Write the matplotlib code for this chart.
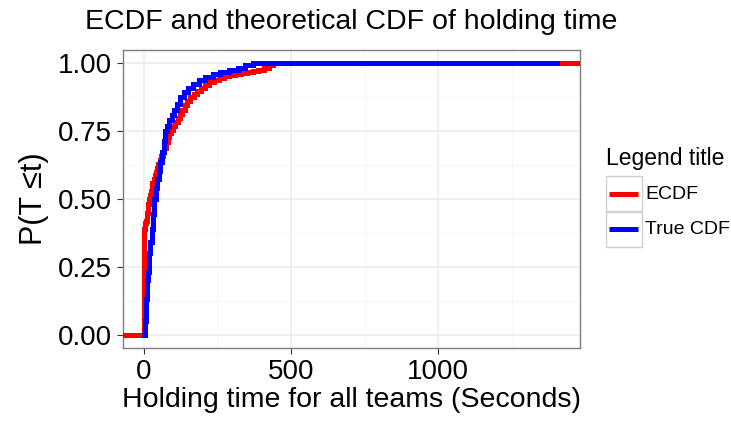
import matplotlib.pyplot as plt
from matplotlib.lines import Line2D
from matplotlib.patches import Rectangle
from matplotlib.ticker import MultipleLocator
import numpy as np

plt.rcParams['font.family'] = ['Liberation Sans', 'DejaVu Sans']

# empirical CDF knots (holding time in seconds, cumulative share)
ecdf_t = [0, 2, 4, 6, 8, 10, 12, 14, 16, 18, 21, 24, 27, 30, 34, 38, 42, 46, 50,
          55, 60, 65, 70, 76, 82, 88, 94, 101, 108, 116, 124, 132, 140, 149,
          159, 170, 182, 195, 208, 222, 238, 255, 272, 290, 310, 330, 350, 370,
          390, 410, 425, 440, 1410]
ecdf_p = [0.38, 0.39, 0.40, 0.41, 0.42, 0.435, 0.45, 0.465, 0.48, 0.50, 0.515,
          0.53, 0.545, 0.56, 0.575, 0.59, 0.60, 0.615, 0.63, 0.645, 0.66, 0.675,
          0.69, 0.71, 0.73, 0.745, 0.755, 0.77, 0.785, 0.80, 0.815, 0.83, 0.845,
          0.86, 0.875, 0.888, 0.90, 0.91, 0.92, 0.93, 0.94, 0.946, 0.952, 0.957,
          0.962, 0.966, 0.97, 0.973, 0.977, 0.985, 0.993, 1.0, 1.0]

# fitted exponential CDF evaluated at the observed times
cdf_t = [3, 5, 7, 9, 11, 13, 15, 17, 20, 23, 27, 32, 37, 42, 47, 52, 57, 62, 68,
         74, 80, 87, 95, 103, 112, 125, 138, 152, 168, 187, 210, 235, 260, 290,
         320, 345, 370, 1405]
cdf_p = [0.0, 0.05, 0.09, 0.13, 0.17, 0.20, 0.23, 0.26, 0.30, 0.34, 0.39, 0.445,
         0.50, 0.54, 0.575, 0.605, 0.635, 0.675, 0.715, 0.75, 0.77, 0.79, 0.81,
         0.83, 0.85, 0.875, 0.893, 0.91, 0.925, 0.938, 0.95, 0.96, 0.968, 0.975,
         0.985, 0.993, 1.0, 1.0]

fig = plt.figure(figsize=(7.31, 4.23), dpi=100)
ax = fig.add_axes([0.168, 0.177, 0.625, 0.705])

# ECDF padded out to the panel edges
x_ecdf = np.concatenate([[-1e4], ecdf_t, [1e5]])
y_ecdf = np.concatenate([[0.0], ecdf_p, [1.0]])
ax.plot(x_ecdf, y_ecdf, drawstyle='steps-post', color='#ff0000', lw=3.6,
        solid_joinstyle='miter', zorder=3)
ax.plot(cdf_t, cdf_p, drawstyle='steps-post', color='#0000ff', lw=3.6,
        solid_joinstyle='miter', zorder=4)

xmin, xmax = 0, 1410
pad = 0.05 * (xmax - xmin)
ax.set_xlim(xmin - pad, xmax + pad)
ax.set_ylim(-0.05, 1.05)

ax.xaxis.set_minor_locator(MultipleLocator(250))
ax.yaxis.set_minor_locator(MultipleLocator(0.125))
ax.set_yticks([0, 0.25, 0.5, 0.75, 1.0])
ax.set_yticklabels(['0.00', '0.25', '0.50', '0.75', '1.00'])
ax.set_xticks([0, 500, 1000])
ax.set_xticklabels(['0', '500', '1000'])

ax.grid(which='major', color='#ebebeb', lw=1.1, zorder=0)
ax.grid(which='minor', color='#f5f5f5', lw=0.6, zorder=0)
ax.set_axisbelow(True)
for s in ax.spines.values():
    s.set_color('#7f7f7f')
    s.set_linewidth(1.0)
ax.tick_params(which='major', length=4, width=0.8, color='#333333',
               labelsize=20, labelcolor='black', pad=4)
ax.tick_params(which='minor', length=0)

ax.set_xlabel('Holding time for all teams (Seconds)', fontsize=20.5, labelpad=1)
ax.set_ylabel('P(T \u2264t)', fontsize=22, labelpad=6)
ax.set_title('ECDF and theoretical CDF of holding time', fontsize=20.5, pad=15)

# legend drawn in figure coordinates
W, H = 731, 423
fig.text(606 / W, 1 - 158 / H, 'Legend title', fontsize=16.5, va='center', ha='left')
entries = [('ECDF', '#ff0000', 194), ('True CDF', '#0000ff', 229.5)]
for label, col, yc in entries:
    fig.patches.append(Rectangle((606 / W, 1 - (yc + 17.5) / H), 36 / W, 35 / H,
                                 transform=fig.transFigure, facecolor='white',
                                 edgecolor='#d0d0d0', lw=1.0))
    fig.lines.append(Line2D([609 / W, 638 / W], [1 - yc / H, 1 - yc / H],
                            transform=fig.transFigure, color=col, lw=3.6,
                            solid_capstyle='butt'))
    fig.text(645 / W, 1 - yc / H, label, fontsize=14, va='center', ha='left')

fig.savefig('out.png', dpi=100)
